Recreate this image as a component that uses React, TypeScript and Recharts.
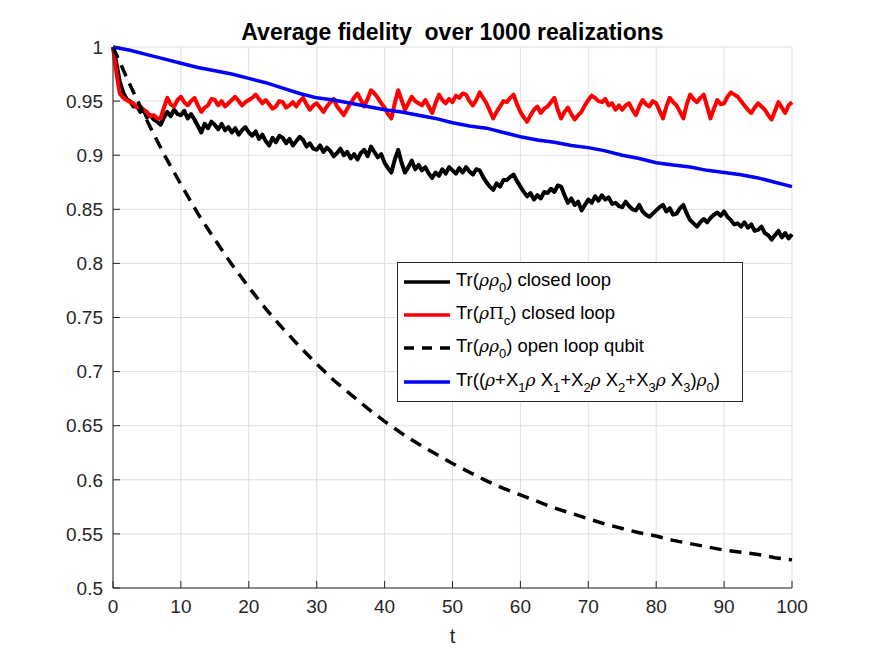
import React from "react";
import { LineChart, Line, XAxis, YAxis, CartesianGrid, Legend } from "recharts";

const STEP_FINE = 0.5;
const STEP_COARSE = 2.5;

const closedLoop = [
  1.000, 0.985, 0.968, 0.958, 0.952, 0.950, 0.945, 0.946, 0.940, 0.942,
  0.935, 0.937, 0.933, 0.931, 0.928, 0.935, 0.940, 0.936, 0.942, 0.938,
  0.937, 0.941, 0.934, 0.938, 0.933, 0.927, 0.921, 0.929, 0.925, 0.931,
  0.928, 0.924, 0.929, 0.923, 0.926, 0.921, 0.925, 0.919, 0.923, 0.926,
  0.921, 0.918, 0.922, 0.915, 0.919, 0.913, 0.909, 0.916, 0.912, 0.918,
  0.916, 0.911, 0.915, 0.909, 0.913, 0.917, 0.914, 0.908, 0.911, 0.906,
  0.905, 0.909, 0.903, 0.907, 0.904, 0.899, 0.902, 0.906, 0.900, 0.903,
  0.897, 0.901, 0.896, 0.902, 0.905, 0.899, 0.908, 0.903, 0.898, 0.901,
  0.893, 0.888, 0.884, 0.896, 0.905, 0.893, 0.884, 0.889, 0.895, 0.887,
  0.891, 0.886, 0.889, 0.883, 0.879, 0.884, 0.881, 0.887, 0.883, 0.889,
  0.886, 0.883, 0.888, 0.884, 0.889, 0.885, 0.882, 0.887, 0.886, 0.880,
  0.875, 0.871, 0.868, 0.874, 0.871, 0.877, 0.877, 0.880, 0.882, 0.876,
  0.871, 0.866, 0.862, 0.865, 0.859, 0.863, 0.860, 0.866, 0.865, 0.869,
  0.866, 0.872, 0.871, 0.863, 0.856, 0.860, 0.854, 0.857, 0.849, 0.854,
  0.859, 0.856, 0.862, 0.858, 0.863, 0.859, 0.861, 0.855, 0.856, 0.853,
  0.852, 0.857, 0.853, 0.850, 0.849, 0.854, 0.848, 0.845, 0.843, 0.846,
  0.849, 0.852, 0.854, 0.848, 0.851, 0.845, 0.846, 0.851, 0.854, 0.846,
  0.840, 0.837, 0.834, 0.838, 0.841, 0.838, 0.842, 0.845, 0.847, 0.844,
  0.848, 0.843, 0.840, 0.836, 0.837, 0.834, 0.838, 0.833, 0.836, 0.830,
  0.831, 0.834, 0.828, 0.826, 0.822, 0.826, 0.830, 0.824, 0.828, 0.823,
  0.827,
];

const codeSpace = [
  1.000, 0.976, 0.957, 0.953, 0.951, 0.949, 0.948, 0.944, 0.945, 0.942,
  0.940, 0.936, 0.937, 0.934, 0.934, 0.944, 0.953, 0.947, 0.945, 0.951,
  0.954, 0.949, 0.946, 0.950, 0.953, 0.946, 0.940, 0.944, 0.946, 0.952,
  0.951, 0.946, 0.950, 0.945, 0.948, 0.951, 0.954, 0.950, 0.946, 0.949,
  0.951, 0.953, 0.956, 0.952, 0.948, 0.951, 0.947, 0.943, 0.945, 0.950,
  0.949, 0.944, 0.946, 0.949, 0.945, 0.950, 0.953, 0.947, 0.942, 0.946,
  0.948, 0.944, 0.940, 0.945, 0.949, 0.952, 0.945, 0.941, 0.937, 0.943,
  0.948, 0.953, 0.957, 0.951, 0.945, 0.952, 0.960, 0.957, 0.953, 0.948,
  0.944, 0.938, 0.934, 0.948, 0.960, 0.951, 0.942, 0.948, 0.954, 0.950,
  0.948, 0.946, 0.951, 0.945, 0.939, 0.948, 0.956, 0.951, 0.948, 0.952,
  0.949, 0.955, 0.953, 0.957, 0.956, 0.950, 0.946, 0.951, 0.958, 0.953,
  0.948, 0.941, 0.934, 0.940, 0.945, 0.950, 0.949, 0.953, 0.956, 0.947,
  0.940, 0.935, 0.931, 0.937, 0.942, 0.945, 0.939, 0.943, 0.945, 0.949,
  0.953, 0.942, 0.934, 0.940, 0.944, 0.938, 0.933, 0.937, 0.940, 0.946,
  0.951, 0.955, 0.953, 0.950, 0.949, 0.952, 0.946, 0.948, 0.942, 0.946,
  0.942, 0.946, 0.948, 0.942, 0.937, 0.945, 0.951, 0.947, 0.945, 0.950,
  0.948, 0.941, 0.934, 0.945, 0.953, 0.949, 0.946, 0.940, 0.934, 0.947,
  0.956, 0.952, 0.949, 0.953, 0.956, 0.945, 0.934, 0.943, 0.951, 0.947,
  0.948, 0.954, 0.958, 0.956, 0.954, 0.950, 0.946, 0.942, 0.939, 0.944,
  0.948, 0.945, 0.942, 0.937, 0.933, 0.941, 0.949, 0.944, 0.939, 0.946,
  0.949,
];

const openLoop = [
  1.000, 0.965, 0.932, 0.901, 0.873, 0.846, 0.822, 0.799, 0.778, 0.758,
  0.740, 0.723, 0.707, 0.692, 0.679, 0.666, 0.654, 0.643, 0.633, 0.624,
  0.615, 0.607, 0.599, 0.592, 0.586, 0.580, 0.574, 0.569, 0.564, 0.559,
  0.555, 0.551, 0.548, 0.544, 0.541, 0.538, 0.535, 0.533, 0.531, 0.528,
  0.526,
];

const twirled = [
  1.000, 0.997, 0.993, 0.989, 0.985, 0.981, 0.978, 0.975, 0.971, 0.967,
  0.962, 0.957, 0.953, 0.951, 0.948, 0.945, 0.942, 0.940, 0.937, 0.934,
  0.930, 0.927, 0.925, 0.921, 0.917, 0.914, 0.912, 0.909, 0.907, 0.904,
  0.900, 0.897, 0.893, 0.891, 0.889, 0.886, 0.884, 0.882, 0.879, 0.875,
  0.871,
];

const xTicks = [0, 10, 20, 30, 40, 50, 60, 70, 80, 90, 100];
const yTicks = [0.5, 0.55, 0.6, 0.65, 0.7, 0.75, 0.8, 0.85, 0.9, 0.95, 1];
const titleText = "Average fidelity  over 1000 realizations";

const toPts = (vals: number[], step: number) => vals.map((v, i) => ({ t: i * step, v }));

const closedData = toPts(closedLoop, STEP_FINE);
const codeData = toPts(codeSpace, STEP_FINE);
const openData = toPts(openLoop, STEP_COARSE);
const twirlData = toPts(twirled, STEP_COARSE);

const FONT = "'Liberation Sans', Arial, Helvetica, sans-serif";
const AX = "#262626";

const rho = <i style={{ fontFamily: "'DejaVu Serif', serif", fontSize: 17 }}>ρ</i>;
const sub = (s: string) => <sub style={{ fontSize: 13, verticalAlign: "-6px", lineHeight: 0 }}>{s}</sub>;

const legendItems = [
  { color: "#000000", dash: undefined as string | undefined, label: <>Tr({rho}{rho}{sub("0")}) closed loop</> },
  { color: "#ff0000", dash: undefined, label: <>Tr({rho}<span style={{ fontFamily: "'DejaVu Serif', serif", fontSize: 17 }}>Π</span>{sub("c")}) closed loop</> },
  { color: "#000000", dash: "10 8", label: <>Tr({rho}{rho}{sub("0")}) open loop qubit</> },
  { color: "#0000ff", dash: undefined, label: <>Tr(({rho}+X{sub("1")}{rho} X{sub("1")}+X{sub("2")}{rho} X{sub("2")}+X{sub("3")}{rho} X{sub("3")}){rho}{sub("0")})</> },
];

const LegendBox = () => (
  <div
    style={{
      width: 344,
      height: 136,
      border: "1px solid #262626",
      background: "#fff",
      fontFamily: FONT,
      fontSize: 18.5,
      color: "#000",
      boxSizing: "content-box",
      paddingTop: 2,
    }}
  >
    {legendItems.map((it, i) => (
      <div key={i} style={{ display: "flex", alignItems: "center", height: 33.4, whiteSpace: "nowrap" }}>
        <svg width={58} height={10} style={{ flex: "none" }}>
          <line x1={6} x2={52} y1={5} y2={5} stroke={it.color} strokeWidth={3.5} strokeDasharray={it.dash} />
        </svg>
        <span style={{ marginTop: -4 }}>{it.label}</span>
      </div>
    ))}
  </div>
);

const fmt = (v: number) => String(Number(v.toFixed(2)));

export default function App() {
  return (
    <div style={{ position: "absolute", left: 0, top: 0, width: 875, height: 658, background: "#fff" }}>
      <div
        style={{
          position: "absolute",
          left: 0,
          width: 905,
          top: 21,
          textAlign: "center",
          fontFamily: FONT,
          fontWeight: "bold",
          fontSize: 23,
          lineHeight: "23px",
          color: "#000",
          zIndex: 2,
          whiteSpace: "pre",
        }}
      >
        {titleText}
      </div>
      <LineChart width={875} height={658} margin={{ top: 47, right: 83, bottom: -130, left: 53 }}>
        <CartesianGrid stroke="#dfdfdf" strokeWidth={1} />
        <XAxis
          dataKey="t"
          type="number"
          domain={[0, 100]}
          ticks={xTicks}
          interval={0}
          height={60}
          tickSize={-7}
          tickMargin={19}
          stroke={AX}
          tick={{ fill: AX, fontSize: 19, fontFamily: FONT }}
          allowDuplicatedCategory={false}
          label={{ value: "t", position: "insideBottom", offset: 5, fill: AX, fontSize: 20, fontFamily: FONT }}
        />
        <XAxis
          xAxisId="top"
          orientation="top"
          dataKey="t"
          type="number"
          domain={[0, 100]}
          ticks={xTicks}
          interval={0}
          height={0}
          tickSize={-7}
          tick={false}
          stroke={AX}
        />
        <YAxis
          type="number"
          domain={[0.5, 1]}
          ticks={yTicks}
          interval={0}
          width={60}
          tickSize={-7}
          tickMargin={17}
          stroke={AX}
          tickFormatter={fmt}
          tick={{ fill: AX, fontSize: 19, fontFamily: FONT }}
        />
        <YAxis
          yAxisId="right"
          orientation="right"
          type="number"
          domain={[0.5, 1]}
          ticks={yTicks}
          interval={0}
          width={0}
          tickSize={-7}
          tick={false}
          stroke={AX}
        />
        <Line data={closedData} dataKey="v" stroke="#000000" strokeWidth={4} strokeLinejoin="round" dot={false} isAnimationActive={false} />
        <Line data={codeData} dataKey="v" stroke="#ff0000" strokeWidth={4} strokeLinejoin="round" dot={false} isAnimationActive={false} />
        <Line data={openData} dataKey="v" stroke="#000000" strokeWidth={3.5} strokeDasharray="12 8" dot={false} isAnimationActive={false} />
        <Line data={twirlData} dataKey="v" stroke="#0000ff" strokeWidth={3.5} dot={false} isAnimationActive={false} />
        <Legend content={<LegendBox />} wrapperStyle={{ position: "absolute", left: 397, top: 262, width: 346, bottom: "auto" }} />
      </LineChart>
    </div>
  );
}
